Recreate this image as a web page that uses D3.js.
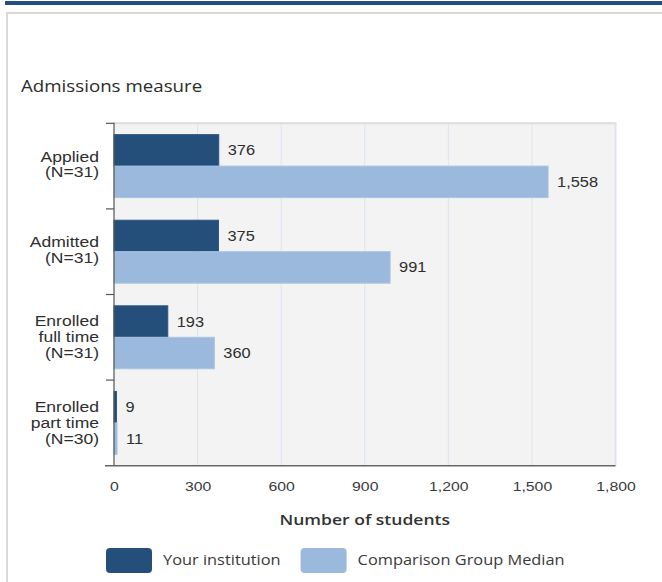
<!DOCTYPE html>
<html>
<head>
<meta charset="utf-8">
<script src="https://cdn.jsdelivr.net/npm/d3@7"></script>
<style>
  html, body { margin: 0; padding: 0; background: #fff; }
  svg { display: block; }
</style>
</head>
<body>
<svg id="chart" width="662" height="582"></svg>
<script>
// ---- data ----
const categories = ["Applied", "Admitted", "Enrolled full time", "Enrolled part time"];
const categoryLabelLines = [
  ["Applied", "(N=31)"],
  ["Admitted", "(N=31)"],
  ["Enrolled", "full time", "(N=31)"],
  ["Enrolled", "part time", "(N=30)"]
];
const seriesNames = ["Your institution", "Comparison Group Median"];
const yourInstitution = [376, 375, 193, 9];
const comparisonMedian = [1558, 991, 360, 11];
const xTicks = [0, 300, 600, 900, 1200, 1500, 1800];
const chartTitle = "Admissions measure";
const xAxisTitle = "Number of students";

// ---- style ----
const SX = 1.17; // horizontal text stretch seen in the reference
const colors = ["#254f7b", "#9ab9dd"];
const W = 662, H = 582;
const plot = { left: 114, right: 615.5, top: 123.3, bottom: 465.7 };
const armFont = "'Liberation Sans', Arial, sans-serif";
const uiFont = "'Open Sans', 'Noto Sans', sans-serif";

const svg = d3.select("#chart");

function place(sel, x, y) {
  return sel.attr("transform", `translate(${x},${y}) scale(${SX},1)`);
}

// top banner bar & outer frame
svg.append("rect").attr("x", 5).attr("y", 1).attr("width", W - 5).attr("height", 4).attr("fill", "#244f7c");
svg.append("rect").attr("x", 7).attr("y", 13).attr("width", W + 20).attr("height", H + 20)
  .attr("fill", "none").attr("stroke", "#d9d9d9").attr("stroke-width", 2);

// chart title
place(svg.append("text"), 21, 92)
  .attr("font-family", uiFont).attr("font-size", 16).attr("font-weight", 500).attr("fill", "#2b2b2b")
  .text(chartTitle);

// scales
const x = d3.scaleLinear().domain([0, 1800]).range([plot.left, plot.right]);
const y = d3.scaleBand().domain(categories).range([plot.top, plot.bottom]).padding(0);
const ys = d3.scaleBand().domain(seriesNames).range([0, y.bandwidth()]).paddingInner(0).paddingOuter(0.36);

// plot background
svg.append("rect").attr("x", plot.left).attr("y", plot.top)
  .attr("width", plot.right - plot.left).attr("height", plot.bottom - plot.top)
  .attr("fill", "#f3f3f3");

// gridlines
svg.append("g").selectAll("line").data(xTicks.filter(d => d > 0 && d < 1800)).join("line")
  .attr("x1", d => x(d)).attr("x2", d => x(d))
  .attr("y1", plot.top).attr("y2", plot.bottom)
  .attr("stroke", "#dde4f0").attr("stroke-width", 1);

// plot top & right border
svg.append("line").attr("x1", plot.left).attr("x2", plot.right + 1)
  .attr("y1", plot.top).attr("y2", plot.top).attr("stroke", "#dcdcdc").attr("stroke-width", 2);
svg.append("line").attr("x1", x(1800)).attr("x2", x(1800))
  .attr("y1", plot.top).attr("y2", plot.bottom).attr("stroke", "#dfe3ea").attr("stroke-width", 2);

// bars
const seriesData = [yourInstitution, comparisonMedian];
seriesNames.forEach((s, si) => {
  const g = svg.append("g");
  g.selectAll("rect").data(categories).join("rect")
    .attr("x", x(0))
    .attr("y", c => y(c) + ys(s))
    .attr("width", (c, i) => x(seriesData[si][i]) - x(0))
    .attr("height", ys.bandwidth())
    .attr("fill", colors[si])
    .attr("stroke", si === 0 ? "#2a5683" : "#a9c4e4")
    .attr("stroke-width", 1);
  // value labels
  g.selectAll("text").data(categories).join("text")
    .each(function (c, i) {
      place(d3.select(this), x(seriesData[si][i]) + 9, y(c) + ys(s) + ys.bandwidth() / 2 + 5);
    })
    .attr("font-family", armFont).attr("font-size", 14).attr("fill", "#2e2e2e")
    .text((c, i) => d3.format(",")(seriesData[si][i]));
});

// y axis line & ticks
svg.append("line").attr("x1", plot.left).attr("x2", plot.left)
  .attr("y1", plot.top - 0.5).attr("y2", plot.bottom).attr("stroke", "#555").attr("stroke-width", 1.2);
const boundaries = categories.map(c => y(c));
svg.append("g").selectAll("line").data(boundaries).join("line")
  .attr("x1", plot.left - 8).attr("x2", plot.left)
  .attr("y1", d => d).attr("y2", d => d)
  .attr("stroke", "#555").attr("stroke-width", 1.2);

// x axis line
svg.append("line").attr("x1", plot.left - 9).attr("x2", plot.right)
  .attr("y1", plot.bottom).attr("y2", plot.bottom).attr("stroke", "#666").attr("stroke-width", 1.5);

// category labels
const catG = svg.append("g");
categories.forEach((c, i) => {
  const lines = categoryLabelLines[i];
  const lh = lines.length === 3 ? 16 : 15.5;
  const cy = y(c) + y.bandwidth() / 2 - (lines.length === 3 ? 0 : 1.5);
  lines.forEach((t, li) => {
    const ly = cy + (li - (lines.length - 1) / 2) * lh + 5;
    place(catG.append("text"), 99, ly)
      .attr("text-anchor", "end")
      .attr("font-family", armFont).attr("font-size", 15).attr("fill", "#2e2e2e")
      .text(t);
  });
});

// x axis tick labels
const xAxis = d3.axisBottom(x).tickValues(xTicks).tickSize(0).tickPadding(16).tickFormat(d3.format(","));
const xg = svg.append("g").attr("transform", `translate(0,${plot.bottom})`).call(xAxis);
xg.select(".domain").remove();
xg.selectAll("text")
  .attr("font-family", armFont).attr("font-size", 13.5).attr("fill", "#3a3a3a")
  .attr("transform", `scale(${SX},1)`)
  .attr("x", 0);

// x axis title
place(svg.append("text"), (plot.left + plot.right) / 2, 525)
  .attr("text-anchor", "middle")
  .attr("font-family", uiFont).attr("font-size", 15).attr("font-weight", 600).attr("fill", "#333")
  .text(xAxisTitle);

// legend
let lx = 106;
const lg = svg.append("g");
seriesNames.forEach((s, si) => {
  lg.append("rect").attr("x", lx).attr("y", 548).attr("width", 46).attr("height", 25)
    .attr("rx", 4).attr("fill", colors[si]);
  const t = place(lg.append("text"), lx + 57, 565)
    .attr("font-family", uiFont).attr("font-size", 14).attr("fill", "#3a3a3a")
    .text(s);
  const w = t.node().getComputedTextLength() * SX;
  lx = lx + 57 + w + 20;
});
</script>
</body>
</html>
